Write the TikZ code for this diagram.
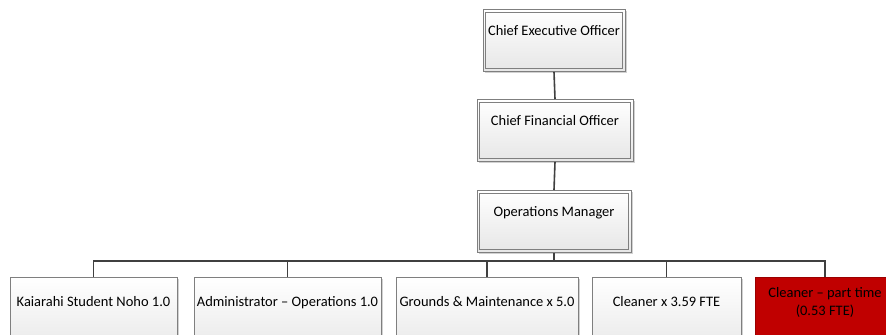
\documentclass[tikz,border=0pt]{standalone}
\usepackage{fontspec}
\setmainfont{Carlito}
\usetikzlibrary{shadows}
\definecolor{linec}{HTML}{404040}
\definecolor{boxc}{HTML}{7F7F7F}
\definecolor{shadec}{HTML}{E6E6E6}
\definecolor{redc}{HTML}{C00000}
\begin{document}
\begin{tikzpicture}[x=0.75pt,y=-0.75pt,
  font=\fontsize{10.85pt}{13.5pt}\selectfont,
  shad/.style={drop shadow={shadow xshift=1.5pt,shadow yshift=-1.5pt,fill=black,opacity=0.18}},
  mgr/.style={shad,draw=boxc,line width=0.6pt,
    top color=white,bottom color=shadec,inner sep=0pt,anchor=north,
    text height=19.5pt,text depth=27pt},
  inner/.style={draw=boxc,line width=0.6pt},
  staff/.style={shad,draw=boxc,line width=0.6pt,top color=white,bottom color=shadec,
    inner sep=0pt,anchor=north,text height=21.5pt,text depth=38.5pt},
  redbox/.style={shad,draw=redc!80!black,line width=0.6pt,fill=redc,
    inner sep=0pt,anchor=north,align=center,text height=28.5pt,text depth=31.5pt},
  conn/.style={draw=linec,line width=1.2pt}]
\useasboundingbox (0,0) rectangle (886,335);
\clip (0,0) rectangle (886,335);
\node[mgr,minimum width=106.5pt] (ceo) at (554,9) {Chief Executive Officer};
\node[mgr,minimum width=117pt] (cfo) at (555,99) {Chief Financial Officer};
\node[mgr,minimum width=115.5pt] (ops) at (554,190) {Operations Manager};
\foreach \n in {ceo,cfo,ops}
  \draw[inner] ([shift={(3,3)}]\n.north west) rectangle ([shift={(-3,-3)}]\n.south east);
\coordinate (bus) at (554,261);
\node[staff,minimum width=125.25pt] (k1) at (93.5,277) {Kaiarahi Student Noho 1.0};
\node[staff,minimum width=140.25pt] (k2) at (287.5,277) {Administrator – Operations 1.0};
\node[staff,minimum width=136.5pt] (k3) at (487,277) {Grounds \& Maintenance x 5.0};
\node[staff,minimum width=111.75pt] (k4) at (666.5,277) {Cleaner x 3.59 FTE};
\node[redbox,minimum width=105pt] (k5) at (825,277) {Cleaner – part time\\(0.53 FTE)};
\draw[conn] (ceo.south) -- (cfo.north);
\draw[conn] (cfo.south) -- (ops.north);
\draw[conn] (ops.south) -- (bus);
\draw[conn] (k1.north) -- (k1.north |- bus) -- (k5.north |- bus) -- (k5.north);
\foreach \k in {k2,k3,k4} \draw[conn] (\k.north) -- (\k.north |- bus);
\end{tikzpicture}
\end{document}
